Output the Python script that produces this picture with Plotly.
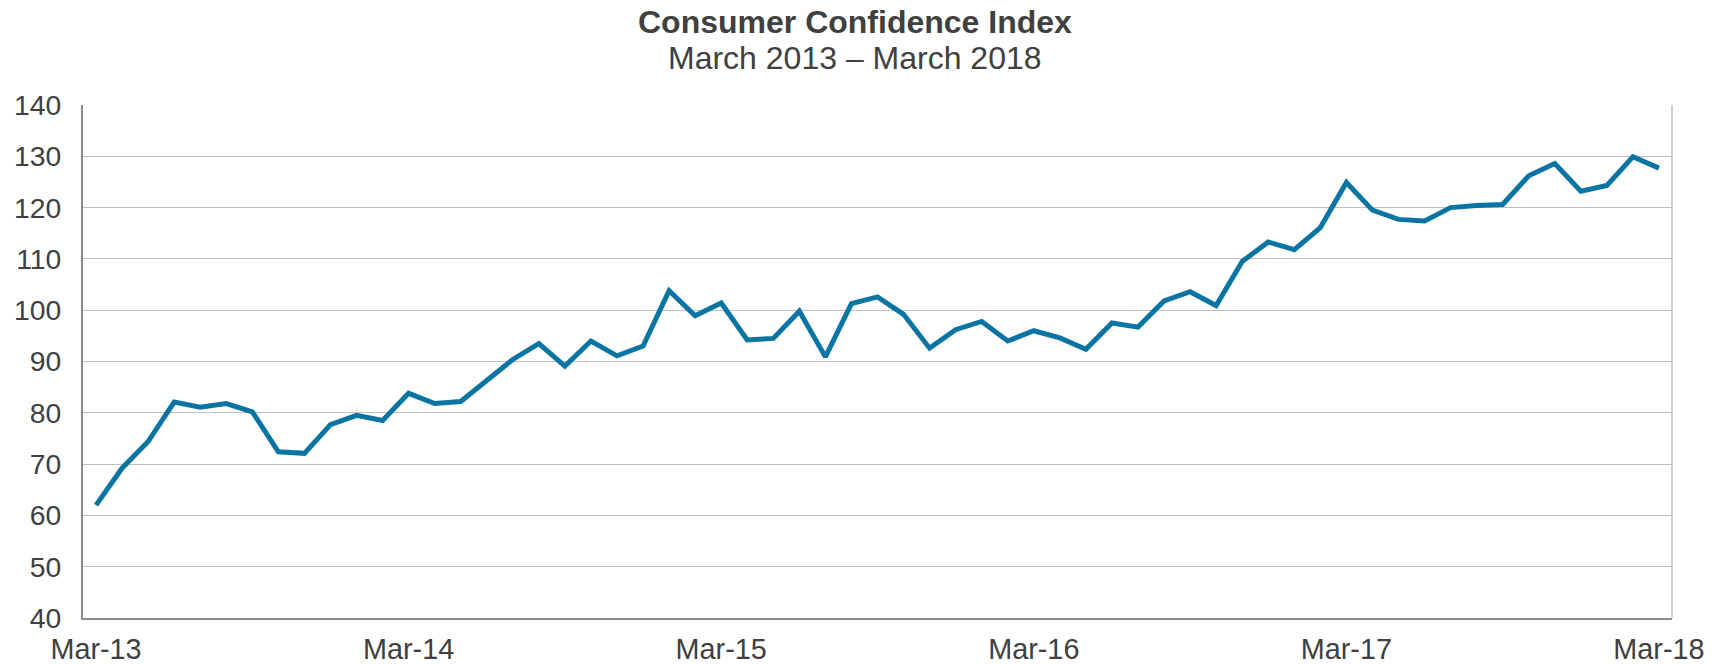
import plotly.graph_objects as go

month_names = ["Jan", "Feb", "Mar", "Apr", "May", "Jun",
               "Jul", "Aug", "Sep", "Oct", "Nov", "Dec"]
months = []
for k in range(61):
    m = (2 + k) % 12
    y = 13 + (2 + k) // 12
    months.append(f"{month_names[m]}-{y:02d}")

cci = [62.0, 69.2, 74.4, 82.1, 81.1, 81.8, 80.2, 72.4, 72.1, 77.7, 79.5, 78.5,
       83.8, 81.8, 82.2, 86.4, 90.4, 93.5, 89.1, 94.0, 91.1, 93.0, 103.8, 98.9,
       101.4, 94.2, 94.5, 99.8, 90.9, 101.3, 102.6, 99.2, 92.6, 96.2, 97.8, 94.0,
       96.0, 94.6, 92.4, 97.5, 96.7, 101.8, 103.6, 100.9, 109.5, 113.3, 111.8, 116.1,
       124.9, 119.5, 117.7, 117.4, 120.0, 120.4, 120.6, 126.2, 128.6, 123.2, 124.3, 129.9,
       127.7]

x_ticks = ["Mar-13", "Mar-14", "Mar-15", "Mar-16", "Mar-17", "Mar-18"]
y_ticks = [40, 50, 60, 70, 80, 90, 100, 110, 120, 130, 140]

title = "Consumer Confidence Index"
subtitle = "March 2013 \u2013 March 2018"

FONT = "Liberation Sans, Arial, sans-serif"
TXT = "#404040"

fig = go.Figure()
fig.add_trace(go.Scatter(
    x=months, y=cci, mode="lines",
    line=dict(color="#0a75a3", width=5),
    hoverinfo="x+y", showlegend=False,
))

fig.update_layout(
    width=1721, height=665,
    margin=dict(l=83, r=49, t=105, b=47),
    paper_bgcolor="white", plot_bgcolor="white",
    font=dict(family=FONT, color=TXT, size=28.5),
    xaxis=dict(
        type="category", range=[-0.5, 60.5], automargin=False,
        tickmode="array", tickvals=x_ticks, ticktext=x_ticks,
        showgrid=False, zeroline=False,
        showline=True, linecolor="#8c8c8c", linewidth=2,
        ticks="", ticklabelstandoff=4,
        tickfont=dict(size=28.8, color=TXT, family=FONT),
        mirror=False,
    ),
    yaxis=dict(
        range=[40, 140], tickmode="array", tickvals=y_ticks, automargin=False,
        showgrid=True, gridcolor="#bfbfbf", gridwidth=1.4,
        zeroline=False,
        showline=True, linecolor="#8c8c8c", linewidth=2,
        ticks="", ticklabelstandoff=14,
        tickfont=dict(size=28.3, color=TXT, family=FONT),
    ),
    shapes=[dict(type="line", xref="paper", yref="paper", x0=1, x1=1, y0=0, y1=1,
                 line=dict(color="#bfbfbf", width=1.5))],
    annotations=[
        dict(text=f"<b>{title}</b>", xref="paper", yref="paper", x=0.486, y=1.162,
             xanchor="center", yanchor="middle", showarrow=False,
             font=dict(size=32, color=TXT, family=FONT)),
        dict(text=subtitle, xref="paper", yref="paper", x=0.486, y=1.0916,
             xanchor="center", yanchor="middle", showarrow=False,
             font=dict(size=32, color=TXT, family=FONT)),
    ],
)

fig.write_html("out.html", config={"displayModeBar": False},
               post_script="document.body.style.margin='0';")
